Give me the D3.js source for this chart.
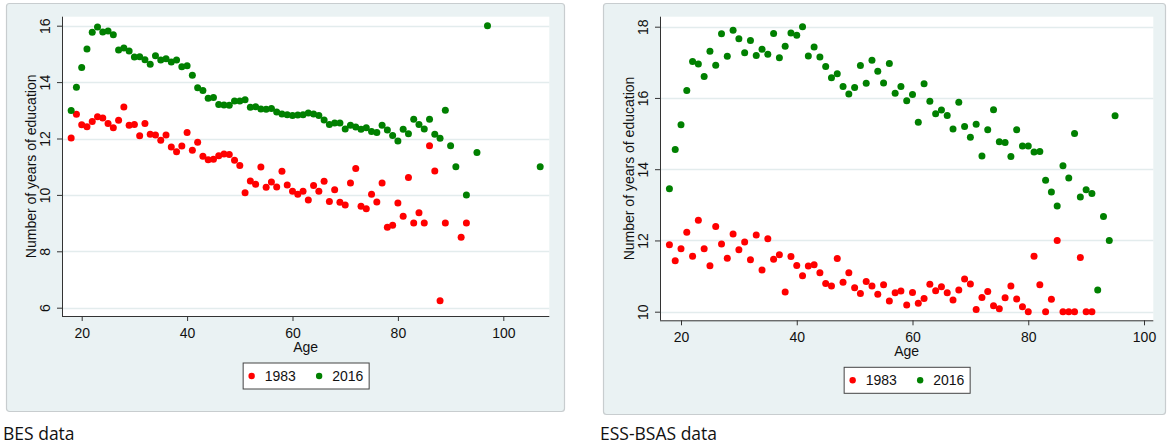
<!DOCTYPE html>
<html>
<head>
<meta charset="utf-8">
<script src="https://cdn.jsdelivr.net/npm/d3@7"></script>
<style>
  html, body { margin: 0; padding: 0; background: #ffffff; }
  svg { display: block; }
  .lbl { font-family: "Liberation Sans", Arial, sans-serif; fill: #111; }
  .cap { font-family: "Open Sans", "Noto Sans", sans-serif; fill: #111; }
</style>
</head>
<body>
<svg id="chart" width="1169" height="446"></svg>
<script>
// ---- BES: mean years of education by age ----
const besAges1983 = [18,19,20,21,22,23,24,25,26,27,28,29,30,31,32,33,34,35,36,37,38,39,40,41,42,43,44,45,46,47,48,49,50,51,52,53,54,55,56,57,58,59,60,61,62,63,64,65,66,67,68,69,70,71,72,73,74,75,76,77,78,79,80,81,82,83,84,85,86,87,88,89,92,93];
const besEdu1983 = [12.02,12.86,12.49,12.42,12.60,12.77,12.73,12.53,12.38,12.65,13.12,12.47,12.50,12.10,12.53,12.15,12.12,11.94,12.12,11.70,11.53,11.73,12.21,11.58,11.87,11.37,11.25,11.26,11.39,11.45,11.43,11.23,11.04,10.08,10.49,10.38,10.99,10.27,10.46,10.28,10.84,10.35,10.13,10.02,10.13,9.82,10.33,10.13,10.48,9.77,10.18,9.74,9.64,10.42,10.94,9.60,9.51,10.02,9.75,10.42,8.85,8.92,9.71,9.24,10.62,9.00,9.37,9.00,11.74,10.85,6.25,9.00,8.50,9.00];

const besAges2016 = [18,19,20,21,22,23,24,25,26,27,28,29,30,31,32,33,34,35,36,37,38,39,40,41,42,43,44,45,46,47,48,49,50,51,52,53,54,55,56,57,58,59,60,61,62,63,64,65,66,67,68,69,70,71,72,73,74,75,76,77,78,79,80,81,82,83,84,85,86,87,88,89,90,91,93,95,97,107];
const besEdu2016 = [12.99,13.82,14.52,15.17,15.77,15.95,15.78,15.81,15.68,15.14,15.21,15.10,14.89,14.90,14.79,14.63,14.93,14.78,14.83,14.71,14.78,14.54,14.58,14.24,13.80,13.70,13.43,13.45,13.21,13.19,13.18,13.33,13.33,13.37,13.11,13.13,13.05,13.04,13.06,12.94,12.87,12.84,12.82,12.83,12.84,12.90,12.87,12.82,12.66,12.50,12.55,12.55,12.34,12.47,12.41,12.33,12.38,12.25,12.21,12.47,12.30,12.11,11.91,12.33,12.17,12.68,12.50,12.34,12.68,12.15,12.01,13.00,11.74,11.00,10.00,11.50,16.00,11.00];

// ---- ESS-BSAS: mean years of education by age ----
const essAges1983 = [18,19,20,21,22,23,24,25,26,27,28,29,30,31,32,33,34,35,36,37,38,39,40,41,42,43,44,45,46,47,48,49,50,51,52,53,54,55,56,57,58,59,60,61,62,63,64,65,66,67,68,69,70,71,72,73,74,75,76,77,78,79,80,81,82,83,84,85,86,87,88,89,90,91];
const essEdu1983 = [11.88,11.43,11.77,12.23,11.56,12.57,11.77,11.29,12.39,11.90,11.50,12.18,11.74,11.96,11.46,12.15,11.17,12.05,11.47,11.60,10.55,11.55,11.30,11.01,11.28,11.32,11.09,10.79,10.72,11.49,10.83,11.09,10.67,10.51,10.85,10.72,10.49,10.76,10.30,10.53,10.58,10.19,10.54,10.24,10.37,10.77,10.59,10.70,10.53,10.33,10.61,10.92,10.78,10.06,10.40,10.57,10.17,10.08,10.39,10.72,10.36,10.14,10.00,11.56,10.76,10.00,10.35,12.00,10.00,10.00,10.00,11.52,10.00,10.00];

const essAges2016 = [18,19,20,21,22,23,24,25,26,27,28,29,30,31,32,33,34,35,36,37,38,39,40,41,42,43,44,45,46,47,48,49,50,51,52,53,54,55,56,57,58,59,60,61,62,63,64,65,66,67,68,69,70,71,72,73,74,75,76,77,78,79,80,81,82,83,84,85,86,87,88,89,90,91,92,93,94,95];
const essEdu2016 = [13.45,14.55,15.25,16.21,17.02,16.95,16.60,17.31,16.92,17.80,17.17,17.90,17.66,17.27,17.61,17.19,17.37,17.23,17.81,17.13,17.45,17.82,17.76,18.00,17.18,17.43,17.15,16.88,16.57,16.68,16.32,16.11,16.29,16.91,16.41,17.06,16.75,16.42,16.97,16.13,16.32,15.92,16.10,15.32,16.40,15.91,15.56,15.66,15.51,15.13,15.88,15.20,14.90,15.26,14.37,15.11,15.67,14.77,14.75,14.36,15.11,14.65,14.65,14.48,14.50,13.69,13.36,12.97,14.10,13.75,15.00,13.22,13.42,13.32,10.61,12.67,12.00,15.50];

// ---- axes and labels ----
const xTicks = [20, 40, 60, 80, 100];
const besYTicks = [6, 8, 10, 12, 14, 16];
const essYTicks = [10, 12, 14, 16, 18];
const seriesLabels = ["1983", "2016"];
const seriesColors = ["#ff0000", "#008000"];
const xTitle = "Age";
const yTitle = "Number of years of education";
const captions = ["BES data", "ESS-BSAS data"];

const svg = d3.select("#chart");
const FONT = 14;

function drawPanel(p) {
  const g = svg.append("g");

  // graph region
  g.append("rect")
    .attr("x", p.frame[0] + 0.5).attr("y", p.frame[1] + 0.5)
    .attr("width", p.frame[2] - p.frame[0]).attr("height", p.frame[3] - p.frame[1])
    .attr("rx", 3)
    .attr("fill", "#eaf2f3").attr("stroke", "#c8cdcf").attr("stroke-width", 1.2);

  // plot region
  const [L, T, R, B] = p.plot;
  g.append("rect")
    .attr("x", L).attr("y", T).attr("width", R - L).attr("height", B - T)
    .attr("fill", "#ffffff");

  const x = d3.scaleLinear().domain([20, 100]).range(p.xRange);
  const y = d3.scaleLinear().domain(p.yDomain).range(p.yRange);

  // horizontal grid
  g.append("g").selectAll("line").data(p.yTicks).join("line")
    .attr("x1", L).attr("x2", R)
    .attr("y1", d => Math.round(y(d)) + 0.5).attr("y2", d => Math.round(y(d)) + 0.5)
    .attr("stroke", "#e3eced").attr("stroke-width", 1.3);

  // y axis
  const ya = g.append("g").attr("transform", `translate(${L},0)`)
    .call(d3.axisLeft(y).tickValues(p.yTicks).tickSize(5).tickSizeOuter(0).tickFormat(d3.format("d")));
  ya.select(".domain").attr("stroke", "#333").attr("d", `M0.5,${T}V${B}`);
  ya.selectAll(".tick line").attr("stroke", "#333");
  ya.selectAll(".tick text")
    .attr("class", "lbl")
    .attr("transform", "rotate(-90)")
    .attr("x", 0).attr("y", -12).attr("dy", 0)
    .attr("text-anchor", "middle")
    .style("font-size", FONT + "px");

  // x axis
  const xa = g.append("g").attr("transform", `translate(0,${B})`)
    .call(d3.axisBottom(x).tickValues(xTicks).tickSize(5).tickSizeOuter(0).tickFormat(d3.format("d")));
  xa.select(".domain").attr("stroke", "#333").attr("d", `M${L},0.5H${R}`);
  xa.selectAll(".tick line").attr("stroke", "#333");
  xa.selectAll(".tick text")
    .attr("class", "lbl")
    .attr("y", 22).attr("dy", 0)
    .style("font-size", FONT + "px");

  // axis titles
  g.append("text").attr("class", "lbl")
    .attr("transform", `translate(${L - 26},${(T + B) / 2}) rotate(-90)`)
    .attr("text-anchor", "middle")
    .style("font-size", FONT + "px")
    .text(yTitle);
  g.append("text").attr("class", "lbl")
    .attr("x", (L + R) / 2).attr("y", B + 36)
    .attr("text-anchor", "middle")
    .style("font-size", FONT + "px")
    .text(xTitle);

  // points
  p.series.forEach((s, i) => {
    g.append("g").selectAll("circle")
      .data(d3.zip(s.ages, s.values)).join("circle")
      .attr("cx", d => x(d[0])).attr("cy", d => y(d[1]))
      .attr("r", 3.5)
      .attr("fill", seriesColors[i]);
  });

  // legend
  const cx = (L + R) / 2, cy = B + 59.5;
  const lw = 126, lh = 26;
  const lg = g.append("g").attr("transform", `translate(${cx - lw / 2},${cy - lh / 2})`);
  lg.append("rect").attr("x", 0.5).attr("y", 0.5).attr("width", lw).attr("height", lh)
    .attr("fill", "#fff").attr("stroke", "#444").attr("stroke-width", 1);
  const itemX = [9, 76.5];
  seriesLabels.forEach((lab, i) => {
    lg.append("circle").attr("cx", itemX[i]).attr("cy", lh / 2 + 0.5).attr("r", 3.2)
      .attr("fill", seriesColors[i]);
    lg.append("text").attr("class", "lbl")
      .attr("x", itemX[i] + 13).attr("y", lh / 2 + 5.5)
      .style("font-size", FONT + "px")
      .text(lab);
  });

  // caption under the panel
  svg.append("text").attr("class", "cap")
    .attr("x", p.captionX).attr("y", 440)
    .style("font-size", "17.5px")
    .text(p.caption);
}

drawPanel({
  frame: [6, 3, 564, 411],
  plot: [62, 16.7, 549.3, 316],
  xRange: [81.7, 503.3],
  yDomain: [6, 16],
  yRange: [307.7, 25.7],
  yTicks: besYTicks,
  series: [{ ages: besAges1983, values: besEdu1983 }, { ages: besAges2016, values: besEdu2016 }],
  caption: captions[0],
  captionX: 3
});

drawPanel({
  frame: [603, 3, 1165, 414],
  plot: [660, 16.7, 1153.3, 320.3],
  xRange: [681, 1144],
  yDomain: [10, 18],
  yRange: [311.7, 26.7],
  yTicks: essYTicks,
  series: [{ ages: essAges1983, values: essEdu1983 }, { ages: essAges2016, values: essEdu2016 }],
  caption: captions[1],
  captionX: 600
});
</script>
</body>
</html>
